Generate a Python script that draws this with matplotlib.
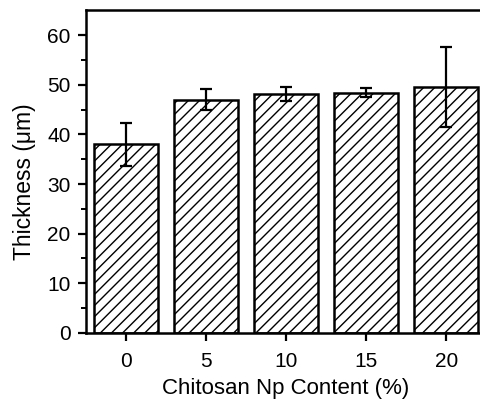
import numpy as np
import matplotlib
matplotlib.use("Agg")
import matplotlib.pyplot as plt

plt.rcParams['font.family'] = ['Liberation Sans', 'DejaVu Sans']
plt.rcParams['hatch.linewidth'] = 1.0

# Data.
contents = ['0', '5', '10', '15', '20']
thickness = [38.0, 47.0, 48.2, 48.4, 49.6]
thickness_err = [4.3, 2.1, 1.4, 0.9, 8.1]

fig = plt.figure(figsize=(4.8, 4.03), dpi=100)
ax = fig.add_axes([0.179, 0.174, 0.834, 0.80])

x = np.arange(len(contents))
ax.bar(x, thickness, width=0.8, color='white', edgecolor='black',
       linewidth=1.8, hatch='///', zorder=2)
ax.errorbar(x, thickness, yerr=thickness_err, fmt='none', ecolor='black',
            elinewidth=1.6, capsize=4, capthick=1.6, zorder=3)

ax.set_xlim(-0.5, 4.5)
ax.set_ylim(0, 65)
ax.set_xticks(x)
ax.set_xticklabels(contents)
ax.set_yticks([0, 10, 20, 30, 40, 50, 60])
ax.set_yticks(np.arange(5, 65, 10), minor=True)

for side in ['left', 'bottom', 'top', 'right']:
    ax.spines[side].set_linewidth(1.8)

ax.tick_params(axis='both', which='major', direction='out', length=6,
               width=1.6, labelsize=15)
ax.tick_params(axis='x', which='major', pad=8)
ax.tick_params(axis='y', which='major', pad=5)
ax.tick_params(axis='y', which='minor', direction='out', length=3.5, width=1.4)

ax.set_xlabel('Chitosan Np Content (%)', fontsize=16, labelpad=5)
ax.set_ylabel('Thickness (μm)', fontsize=16.5)
ax.yaxis.set_label_coords(-0.125, 0.47)

fig.savefig('out.png', dpi=100)
